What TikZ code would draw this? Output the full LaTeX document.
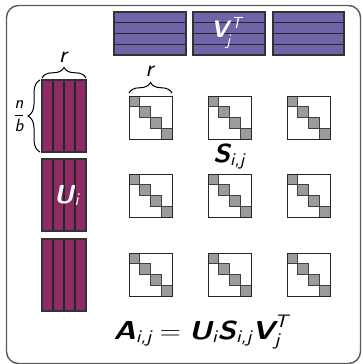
\documentclass[tikz,border=0pt]{standalone}
\usepackage{amsmath}
\usepackage{graphicx}
\usepackage{fontspec}
\usetikzlibrary{decorations.pathreplacing}
\definecolor{vpurple}{RGB}{112,100,168}
\definecolor{umag}{RGB}{142,42,100}
\definecolor{sgray}{RGB}{155,155,155}
\definecolor{framegray}{RGB}{90,90,90}
\DeclareMathSizes{26}{26}{18}{13}
\DeclareMathSizes{18}{18}{13}{10}
\newcommand{\bi}[1]{\text{\sffamily\bfseries\slshape #1}}
\newcommand{\ii}[1]{\text{\sffamily\slshape #1}}
\begin{document}
\begin{tikzpicture}[x=1pt,y=-1pt,
  frame/.style={draw=framegray,line width=1.4pt,rounded corners=12pt},
  vblock/.style={fill=vpurple},
  ublock/.style={fill=umag},
  stripe/.style={draw=black!85,line width=1.1pt},
  blockedge/.style={draw=black!80,line width=1.1pt},
  sbox/.style={draw=black!85,line width=1pt,fill=white},
  sdiag/.style={draw=black!75,line width=0.8pt,fill=sgray},
  bracestyle/.style={decorate,decoration={brace,amplitude=10.5pt},line width=1pt},
  lab/.style={inner sep=0pt,anchor=base}
]
\useasboundingbox (0,0) rectangle (362,364);
\draw[frame] (6.5,5.5) rectangle (360.5,363.5);

% V^T blocks
\foreach \x/\w in {114/72,193/72,273/71}{
  \path[vblock] (\x,12) rectangle ++(\w,43);
  \foreach \k in {1,2,3}{
    \draw[stripe] (\x,12+\k*10.75) -- ++(\w,0);
  }
  \draw[blockedge] (\x,12) rectangle ++(\w,43);
}

% U blocks
\foreach \y in {80,159,239}{
  \path[ublock] (42,\y) rectangle ++(44,72);
  \foreach \k in {1,2,3}{
    \draw[stripe] (42+\k*11,\y) -- ++(0,72);
  }
  \draw[blockedge] (42,\y) rectangle ++(44,72);
}

% S blocks
\foreach \x in {129,208,287}{
  \foreach \y in {96,174,253}{
    \path[sbox] (\x,\y) rectangle ++(43,43);
    \foreach \k in {0,1,2,3}{
      \path[sdiag] (\x+\k*10.75,\y+\k*10.75) rectangle ++(10.75,10.75);
    }
    \draw[sbox,fill=none] (\x,\y) rectangle ++(43,43);
  }
}

% braces
\coordinate (ubl) at (42,78);
\coordinate (ubr) at (86,78);
\draw[bracestyle] (ubl) -- (ubr);
\node[lab] (ur) at (63,62) {\fontsize{24}{28}\selectfont\sffamily\slshape r};

\coordinate (sbl) at (129,93);
\coordinate (sbr) at (172,93);
\draw[bracestyle] (sbl) -- (sbr);
\node[lab] (sr) at (149.5,76) {\fontsize{24}{28}\selectfont\sffamily\slshape r};

\coordinate (nbb) at (40,152);
\coordinate (nbt) at (40,80);
\draw[bracestyle,decoration={amplitude=12pt}] (nbb) -- (nbt);
\node[inner sep=0pt] (nb) at (19,116) {\fontsize{18}{21}\selectfont$\dfrac{\ii{n}}{\ii{b}}$};

% labels
\node[lab,anchor=base west,text=white] (vlab) at (211,37)
  {\fontsize{24}{28}\selectfont\sffamily\bfseries\slshape V\kern-2.5pt\raisebox{-9pt}{\fontsize{16}{19}\selectfont\mdseries j}\kern1pt\raisebox{9pt}{\fontsize{16}{19}\selectfont\mdseries T}};
\node[lab,anchor=base west,text=white] (ulab) at (54,203)
  {\fontsize{26}{30}\selectfont\sffamily\bfseries\slshape U\kern0.5pt\raisebox{-2pt}{\fontsize{18}{21}\selectfont\mdseries i}};
\node[lab] (slab) at (229,162) {\scalebox{1.08}[1]{\fontsize{26}{30}\selectfont$\bi{S}_{\ii{i,j}}$}};
\node[lab] (eq) at (201,339) {\scalebox{1.17}[1]{\fontsize{26}{30}\selectfont$\bi{A}_{\ii{i,j}} = \bi{U}_{\ii{i}}\bi{S}_{\ii{i,j}}\bi{V}_{\ii{j}}^{\ii{T}}$}};
\end{tikzpicture}
\end{document}
